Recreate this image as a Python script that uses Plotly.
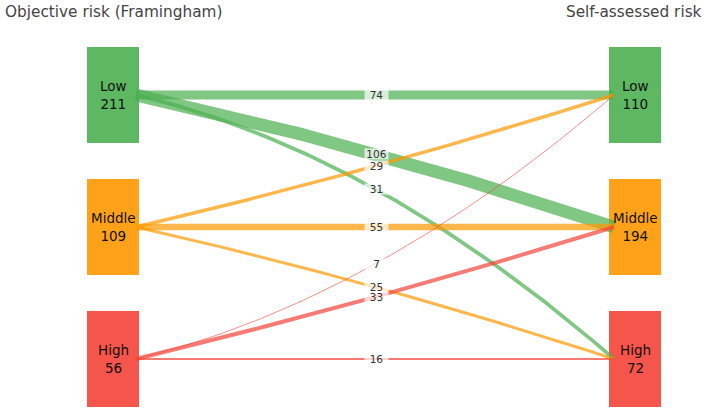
import numpy as np
import plotly.graph_objects as go

# ---- data ----
categories = ["Low", "Middle", "High"]
left_title = "Objective risk (Framingham)"
right_title = "Self-assessed risk"
# flows[i][j]: objective category i -> self-assessed category j
flows = [
    [74, 106, 31],
    [29, 55, 25],
    [7, 33, 16],
]
left_totals = [211, 109, 56]
right_totals = [110, 194, 72]
# vertical displacement of each flow's midpoint label (to avoid overlaps)
label_shift = [
    [0, -7, -38],
    [5, 0, -6],
    [37, 4, 0],
]

# ---- style ----
node_colors = ["rgba(76,175,80,0.9)", "rgba(255,152,0,0.9)", "rgba(244,67,54,0.9)"]
flow_colors = ["rgba(76,175,80,0.7)", "rgba(255,152,0,0.7)", "rgba(244,67,54,0.7)"]
W, H = 708, 411
left_x = (87, 139)
right_x = (609, 661)
row_top, row_h, row_gap = 47, 96, 36
centers = [row_top + k * (row_h + row_gap) + row_h / 2 for k in range(3)]
x_start, x_end = 136, 614
width_per_unit = 0.12

fig = go.Figure()
shapes = []
annotations = []

# nodes
for k, cat in enumerate(categories):
    y0 = row_top + k * (row_h + row_gap)
    for (xa, xb), total in ((left_x, left_totals[k]), (right_x, right_totals[k])):
        shapes.append(dict(type="rect", xref="x", yref="y", x0=xa, x1=xb, y0=y0, y1=y0 + row_h,
                           fillcolor=node_colors[k], line=dict(width=0), layer="below"))
        annotations.append(dict(x=(xa + xb) / 2, y=centers[k], xref="x", yref="y",
                                text=f"{cat}<br>{total}", showarrow=False,
                                font=dict(family="DejaVu Sans", size=13.5, color="#111")))

# flows
t = np.linspace(0, 1, 80)
for i in range(3):
    for j in range(3):
        v = flows[i][j]
        ya, yb = centers[i], centers[j]
        xm = (x_start + x_end) / 2
        ym = (ya + yb) / 2 + 2 * label_shift[i][j]
        xs = (1 - t) ** 2 * x_start + 2 * t * (1 - t) * xm + t ** 2 * x_end
        ys = (1 - t) ** 2 * ya + 2 * t * (1 - t) * ym + t ** 2 * yb
        fig.add_trace(go.Scatter(x=xs, y=ys, mode="lines", hoverinfo="skip",
                                 line=dict(color=flow_colors[i], width=v * width_per_unit),
                                 showlegend=False))
        annotations.append(dict(x=xm + 1.5, y=(ya + yb) / 2 + label_shift[i][j], xref="x", yref="y",
                                text=str(v), showarrow=False, width=23, height=10, borderpad=0,
                                bgcolor="rgba(255,255,255,0.7)",
                                font=dict(family="DejaVu Sans", size=10.5, color="#333")))

annotations.append(dict(x=3, y=12, xref="x", yref="y", text=left_title, showarrow=False,
                        xanchor="left", font=dict(family="DejaVu Sans", size=15.3, color="#444")))
annotations.append(dict(x=704, y=12, xref="x", yref="y", text=right_title, showarrow=False,
                        xanchor="right", font=dict(family="DejaVu Sans", size=15.3, color="#444")))

fig.update_layout(
    width=W, height=H, margin=dict(l=0, r=0, t=0, b=0),
    plot_bgcolor="white", paper_bgcolor="white",
    xaxis=dict(range=[0, W], visible=False, fixedrange=True),
    yaxis=dict(range=[H, 0], visible=False, fixedrange=True),
    shapes=shapes, annotations=annotations, showlegend=False,
)
fig.write_html("out.html", config={"displayModeBar": False},
               post_script="document.body.style.margin='0px';document.body.style.overflow='hidden';")
